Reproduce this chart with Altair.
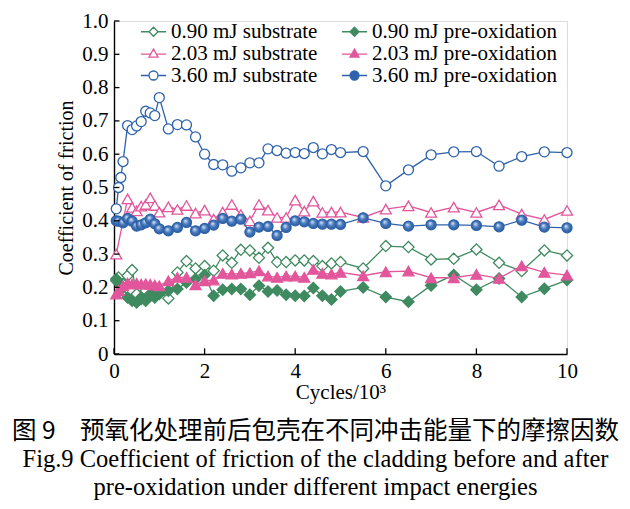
import altair as alt
import pandas as pd

# ---------------- data ----------------
X_EARLY = [0.05, 0.1, 0.2, 0.3, 0.4, 0.5, 0.6, 0.7, 0.8, 0.9, 1.0]
X_EARLY_203_SUB = [0.05, 0.3, 0.4, 0.5, 0.6, 0.7, 0.8, 0.9, 1.0]
X_EARLY_360_SUB = [0.05, 0.1, 0.15, 0.2, 0.3, 0.4, 0.5, 0.6, 0.7, 0.8, 0.9, 1.0]
X_MAIN = [1.2, 1.4, 1.6, 1.8, 2.0, 2.2, 2.4, 2.6, 2.8, 3.0, 3.2, 3.4, 3.6, 3.8, 4.0,
          4.2, 4.4, 4.6, 4.8, 5.0, 5.5, 6.0, 6.5, 7.0, 7.5, 8.0, 8.5, 9.0, 9.5, 10.0]

SUB_090 = [0.22, 0.23, 0.21, 0.235, 0.252, 0.18, 0.165, 0.19, 0.175, 0.20, 0.19,
           0.167, 0.245, 0.279, 0.257, 0.264, 0.25, 0.296, 0.274, 0.313, 0.311, 0.289, 0.319, 0.276, 0.276,
           0.281, 0.281, 0.279, 0.264, 0.272, 0.276, 0.257, 0.324, 0.321, 0.284, 0.286, 0.314, 0.274,
           0.249, 0.311, 0.296]
PRE_090 = [0.225, 0.215, 0.20, 0.17, 0.16, 0.155, 0.17, 0.16, 0.18, 0.17, 0.18,
           0.19, 0.195, 0.215, 0.225, 0.237, 0.175, 0.193, 0.195, 0.195, 0.178, 0.205, 0.188, 0.191, 0.178,
           0.175, 0.174, 0.198, 0.175, 0.164, 0.188, 0.20, 0.171, 0.157, 0.206, 0.237, 0.193, 0.227,
           0.171, 0.196, 0.222]
SUB_203 = [0.30, 0.466, 0.44, 0.43, 0.444, 0.449, 0.469, 0.446, 0.426,
           0.442, 0.434, 0.446, 0.423, 0.432, 0.405, 0.426, 0.449, 0.419, 0.40, 0.449, 0.432, 0.41, 0.41,
           0.462, 0.429, 0.459, 0.425, 0.426, 0.426, 0.41, 0.435, 0.445, 0.425, 0.441, 0.425, 0.448,
           0.42, 0.404, 0.431]
PRE_203 = [0.18, 0.19, 0.205, 0.213, 0.21, 0.212, 0.21, 0.211, 0.209, 0.207, 0.205,
           0.22, 0.23, 0.23, 0.208, 0.22, 0.222, 0.242, 0.24, 0.242, 0.244, 0.25, 0.234, 0.23, 0.234,
           0.234, 0.23, 0.254, 0.242, 0.24, 0.245, 0.235, 0.247, 0.249, 0.229, 0.229, 0.239, 0.227,
           0.265, 0.245, 0.237]
SUB_360 = [0.436, 0.50, 0.53, 0.578, 0.686, 0.674, 0.685, 0.698, 0.729, 0.724, 0.716, 0.77,
           0.676, 0.689, 0.688, 0.652, 0.60, 0.569, 0.568, 0.549, 0.559, 0.574, 0.574, 0.616, 0.611, 0.603,
           0.605, 0.602, 0.62, 0.601, 0.614, 0.605, 0.608, 0.505, 0.553, 0.598, 0.607, 0.608, 0.564,
           0.593, 0.607, 0.605]
PRE_360 = [0.40, 0.399, 0.394, 0.407, 0.399, 0.384, 0.388, 0.394, 0.405, 0.391, 0.376,
           0.37, 0.38, 0.395, 0.37, 0.377, 0.387, 0.407, 0.399, 0.405, 0.366, 0.381, 0.383, 0.356, 0.38,
           0.40, 0.397, 0.392, 0.39, 0.39, 0.389, 0.409, 0.392, 0.384, 0.388, 0.388, 0.386, 0.382,
           0.402, 0.381, 0.379]

NAMES = ["0.90 mJ substrate", "0.90 mJ pre-oxidation",
         "2.03 mJ substrate", "2.03 mJ pre-oxidation",
         "3.60 mJ substrate", "3.60 mJ pre-oxidation"]
XS = [X_EARLY + X_MAIN, X_EARLY + X_MAIN,
      X_EARLY_203_SUB + X_MAIN, X_EARLY + X_MAIN,
      X_EARLY_360_SUB + X_MAIN, X_EARLY + X_MAIN]
YS = [SUB_090, PRE_090, SUB_203, PRE_203, SUB_360, PRE_360]

X_TICKS = [0, 2, 4, 6, 8, 10]
Y_TICKS = [0, 0.1, 0.2, 0.3, 0.4, 0.5, 0.6, 0.7, 0.8, 0.9, 1.0]

# ---------------- styles ----------------
GREEN, PINK, BLUE = "#3f8a60", "#e2569b", "#2e62ab"
COLORS = [GREEN, GREEN, PINK, PINK, BLUE, BLUE]
SHAPES = ["diamond", "diamond", "triangle-up", "triangle-up", "circle", "circle"]
SIZES = [125, 125, 120, 120, 100, 100]
FILLS = ["white", GREEN, "white", PINK, "white", BLUE]

DIAMOND_L = "M-2.8,0L-1,0M1,0L2.8,0M0,-1L1,0L0,1L-1,0Z"
TRI_L = "M-2.8,0.15L-0.66,0.15M0.66,0.15L2.8,0.15M0,-1L1,0.8L-1,0.8Z"
CIRC_L = "M-2.8,0L-1,0M1,0L2.8,0M-1,0A1,1,0,1,0,1,0A1,1,0,1,0,-1,0Z"
LEG_SHAPES = [DIAMOND_L, DIAMOND_L, TRI_L, TRI_L, CIRC_L, CIRC_L]

# legend order: column-major (substrate column, then pre-oxidation column)
LEG_ORDER = [0, 2, 4, 1, 3, 5]

SERIF = "Liberation Serif"

rows = []
for name, xs, ys in zip(NAMES, XS, YS):
    for xv, yv in zip(xs, ys):
        rows.append({"series": name, "cycles": xv, "cof": yv})
df = pd.DataFrame(rows)

x_axis = alt.Axis(title="Cycles/10³", values=X_TICKS, ticks=False, grid=False,
                  labelFont=SERIF, labelFontSize=21, labelColor="black", labelPadding=6,
                  titleFont=SERIF, titleFontSize=21, titleFontWeight="normal", titleColor="black",
                  titlePadding=0, domainColor="black", domainWidth=1.4, labelFlush=False)
y_axis = alt.Axis(title="Coefficient of friction", values=Y_TICKS, ticks=False, grid=False,
                  labelExpr="datum.value == 0 ? '0' : format(datum.value, '.1f')",
                  labelFont=SERIF, labelFontSize=21, labelColor="black", labelPadding=6,
                  titleFont=SERIF, titleFontSize=20, titleFontWeight="normal", titleColor="black",
                  titlePadding=5, domainColor="black", domainWidth=1.4, labelFlush=False)
x_scale = alt.Scale(domain=[0, 10], nice=False, zero=False)
y_scale = alt.Scale(domain=[0, 1.0], nice=False, zero=False)


def X(field):
    return alt.X(field, type="quantitative", scale=x_scale, axis=x_axis)


def Y(field):
    return alt.Y(field, type="quantitative", scale=y_scale, axis=y_axis)


layers = []
for i, name in enumerate(NAMES):
    base = alt.Chart(df).transform_filter(alt.datum.series == name)
    layers.append(base.mark_line(color=COLORS[i], strokeWidth=1.3).encode(x=X("cycles"), y=Y("cof")))
    fill = FILLS[i]
    if name == "3.60 mJ pre-oxidation":
        fill = {"gradient": "radial", "x1": 0.38, "y1": 0.33, "r1": 0.0,
                "x2": 0.5, "y2": 0.5, "r2": 0.58,
                "stops": [{"offset": 0, "color": "#e6eef9"},
                          {"offset": 0.45, "color": "#4f80c2"},
                          {"offset": 1, "color": "#21508f"}]}
    layers.append(base.mark_point(shape=SHAPES[i], size=SIZES[i], filled=True, fill=fill,
                                  stroke=COLORS[i], strokeWidth=1.3, opacity=1, fillOpacity=1,
                                  strokeOpacity=1).encode(x=X("cycles"), y=Y("cof")))

# inward ticks drawn from the tick lists
tx = pd.DataFrame({"t": X_TICKS})
ty = pd.DataFrame({"t": Y_TICKS})
layers.append(alt.Chart(tx).mark_rule(color="black", strokeWidth=1.3).encode(
    x=X("t"), y=alt.Y(datum=0, scale=y_scale, axis=y_axis), y2=alt.Y2(datum=0.017)))
layers.append(alt.Chart(ty).mark_rule(color="black", strokeWidth=1.3).encode(
    y=Y("t"), x=alt.X(datum=0, scale=x_scale, axis=x_axis), x2=alt.X2(datum=0.12)))

# legend layer (no marks drawn)
leg = alt.Legend(orient="none", legendX=29, legendY=0, columns=2, title=None,
                 labelFont=SERIF, labelFontSize=21, labelColor="black", labelOffset=7,
                 symbolSize=81, symbolStrokeWidth=1.3, rowPadding=0, columnPadding=21,
                 padding=0, labelLimit=300)
leg_names = [NAMES[k] for k in LEG_ORDER]
leg_colors = [COLORS[k] for k in LEG_ORDER]
leg_fills = [FILLS[k] for k in LEG_ORDER]
leg_shapes = [LEG_SHAPES[k] for k in LEG_ORDER]
layers.append(alt.Chart(df).transform_filter("false").mark_point(filled=True, opacity=1).encode(
    x=X("cycles"), y=Y("cof"),
    stroke=alt.Stroke("series:N", scale=alt.Scale(domain=leg_names, range=leg_colors), legend=leg),
    fill=alt.Fill("series:N", scale=alt.Scale(domain=leg_names, range=leg_fills), legend=leg),
    shape=alt.Shape("series:N", scale=alt.Scale(domain=leg_names, range=leg_shapes), legend=leg),
))

title = alt.TitleParams(
    text="图 9　预氧化处理前后包壳在不同冲击能量下的摩擦因数",
    subtitle=["Fig.9 Coefficient of friction of the cladding before and after",
              "pre-oxidation under different impact energies"],
    orient="bottom", anchor="middle", font="Noto Sans CJK SC", fontSize=24.5, fontWeight="normal",
    color="black", subtitleFont=SERIF, subtitleFontSize=24.5, subtitleColor="black",
    subtitleLineHeight=28, subtitlePadding=3, offset=18, dx=-25)

chart = alt.layer(*layers).properties(
    width=453, height=333, title=title,
    autosize=alt.AutoSizeParams(type="none"),
    padding={"left": 106, "top": 13, "right": 55, "bottom": 147},
).configure_view(stroke="black", strokeWidth=1.4).configure(background="white")

chart.save("out.html", embed_options={"renderer": "svg", "actions": False})
